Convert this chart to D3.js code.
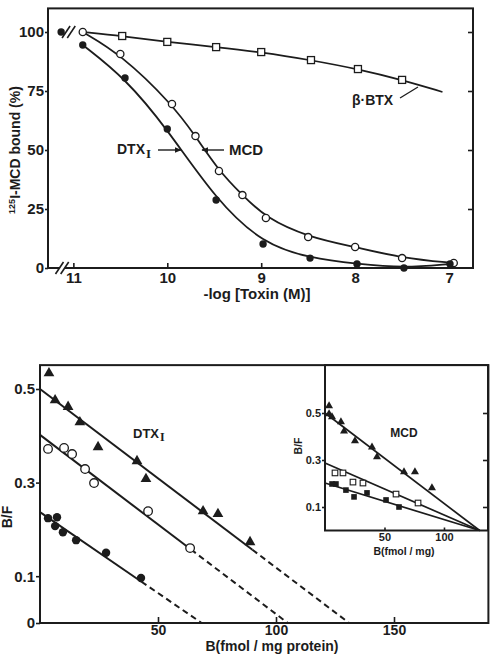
<!DOCTYPE html>
<html>
<head>
<meta charset="utf-8">
<script src="https://cdn.jsdelivr.net/npm/d3@7"></script>
<style>
body { margin: 0; background: #fff; }
svg { display: block; font-family: "Liberation Sans", Arial, sans-serif; font-weight: bold; }
.axis path { display: none; }
.axis line { stroke: #1c1c1c; stroke-width: 1.6; }
.axis text { fill: #1c1c1c; font-weight: bold; }
</style>
</head>
<body>
<script>
// top panel: displacement of 125I-MCD binding by toxins
const toxinTicks = [11, 10, 9, 8, 7];
const pctTicks = [0, 25, 50, 75, 100];

const mcdLogX  = [10.9, 10.5, 9.95, 9.7, 9.45, 9.2, 8.95, 8.5, 8, 7.5, 6.95];
const mcdBound = [100, 90.7, 69.5, 55.9, 41.1, 30.9, 21.2, 13.1, 8.9, 4.2, 2.1];

const dtxLogX  = [11.13, 10.9, 10.45, 10, 9.48, 8.98, 8.48, 7.98, 7.48, 6.99];
const dtxBound = [100, 94.5, 80.5, 58.9, 28.8, 10.2, 4.2, 1.7, 0, 1.7];

const btxLogX  = [10.48, 10, 9.48, 9, 8.47, 7.97, 7.5];
const btxBound = [98.3, 95.8, 93.6, 91.5, 88.1, 84.3, 79.7];
const btxLineEnd = [7.07, 74.6];

// bottom panel: Scatchard plots, DTX-I (main) and MCD (inset)
const bTicks = [50, 100, 150];
const bfTicks = [0, 0.1, 0.3, 0.5];

const triB  = [3.8, 6.4, 11.9, 16.9, 24.6, 41.1, 44.9, 69.1, 75.4, 89.0];
const triBF = [0.534, 0.476, 0.462, 0.429, 0.376, 0.346, 0.308, 0.239, 0.233, 0.173];
const openB  = [3.4, 10.2, 13.6, 19.1, 22.9, 45.8, 63.6];
const openBF = [0.372, 0.374, 0.361, 0.329, 0.299, 0.239, 0.160];
const fillB  = [3.4, 7.2, 6.4, 9.7, 15.3, 28.0, 42.8];
const fillBF = [0.224, 0.226, 0.207, 0.194, 0.177, 0.150, 0.096];

// fitted lines: y-intercept, x-intercept, end of the solid part
const fitIntercept = [0.5, 0.402, 0.237];
const fitRoot = [131, 105, 68.5];
const fitSolidTo = [90, 64, 43];

const inTicksX = [50, 100];
const inTicksY = [0.1, 0.3, 0.5];
const inTriB  = [3.4, 3.4, 5.9, 13.4, 16.0, 25.2, 39.5, 43.7, 66.4, 75.6, 89.9];
const inTriBF = [0.530, 0.496, 0.483, 0.462, 0.423, 0.381, 0.355, 0.313, 0.249, 0.249, 0.181];
const inOpenB  = [8.4, 15.1, 23.5, 31.9, 59.7, 78.2];
const inOpenBF = [0.245, 0.245, 0.206, 0.202, 0.155, 0.117];
const inFillB  = [5.9, 9.2, 17.6, 24.4, 35.3, 51.3, 62.2];
const inFillBF = [0.198, 0.198, 0.172, 0.143, 0.160, 0.130, 0.100];
const inFitIntercept = [0.5, 0.287, 0.202];
const inFitRoot = 130;

const ink = '#1c1c1c';

const svg = d3.select('body').append('svg')
    .attr('width', 491)
    .attr('height', 655);

svg.append('defs').append('marker')
    .attr('id', 'arrow')
    .attr('viewBox', '0 0 10 10')
    .attr('refX', 9).attr('refY', 5)
    .attr('markerWidth', 7).attr('markerHeight', 7)
    .attr('markerUnits', 'userSpaceOnUse')
    .attr('orient', 'auto')
    .append('path')
    .attr('d', 'M0,1 L10,5 L0,9 Z')
    .attr('fill', ink);

//---------------- top panel
const xTop = d3.scaleLinear().domain([11.27, 6.745]).range([48, 473]);
const yTop = d3.scaleLinear().domain([0, 100]).range([268, 32]);

const upper = svg.append('g');

upper.append('rect')
    .attr('x', xTop.range()[0])
    .attr('y', yTop(110))
    .attr('width', xTop.range()[1] - xTop.range()[0])
    .attr('height', yTop(0) - yTop(110))
    .attr('fill', 'none')
    .attr('stroke', ink)
    .attr('stroke-width', 2);

upper.append('g')
    .attr('class', 'axis')
    .attr('transform', 'translate(0,' + yTop(0) + ')')
    .call(d3.axisBottom(xTop).tickValues(toxinTicks).tickSize(-5).tickPadding(4).tickFormat(d3.format('d')))
    .selectAll('text').attr('font-size', 15);

upper.append('g')
    .attr('class', 'axis')
    .attr('transform', 'translate(' + xTop.range()[0] + ',0)')
    .call(d3.axisLeft(yTop).tickValues(pctTicks).tickSize(3).tickPadding(1))
    .selectAll('text').attr('font-size', 15);

upper.append('g')
    .attr('class', 'axis')
    .attr('transform', 'translate(' + xTop.range()[1] + ',0)')
    .call(d3.axisRight(yTop).tickValues(pctTicks.slice(1)).tickSize(-5).tickFormat(''));

const curve = d3.line()
    .x(d => xTop(d[0]))
    .y(d => yTop(d[1]))
    .curve(d3.curveBasis);

const mcdPts = d3.zip(mcdLogX, mcdBound);
const dtxPts = d3.zip(dtxLogX, dtxBound);
const btxPts = d3.zip(btxLogX, btxBound);

upper.append('path')
    .attr('d', curve([mcdPts[0]].concat(btxPts, [btxLineEnd])))
    .attr('fill', 'none').attr('stroke', ink).attr('stroke-width', 1.7);
upper.append('path')
    .attr('d', curve(mcdPts))
    .attr('fill', 'none').attr('stroke', ink).attr('stroke-width', 1.8);
upper.append('path')
    .attr('d', curve(dtxPts.slice(1)))
    .attr('fill', 'none').attr('stroke', ink).attr('stroke-width', 1.8);

// axis breaks
function breakMark(g, cx, cy) {
    g.append('rect')
        .attr('x', cx - 2.5).attr('y', cy - 3)
        .attr('width', 5).attr('height', 6)
        .attr('fill', '#fff');
    [-2.6, 2.6].forEach(o => {
        g.append('line')
            .attr('x1', cx + o - 4).attr('y1', cy + 6)
            .attr('x2', cx + o + 4).attr('y2', cy - 6)
            .attr('stroke', ink).attr('stroke-width', 1.6);
    });
}
breakMark(upper, xTop(11.12), yTop(0));
breakMark(upper, xTop(11.05), yTop(100));

upper.selectAll('.btx')
    .data(btxPts)
    .enter()
    .append('rect')
    .attr('x', d => xTop(d[0]) - 3.5)
    .attr('y', d => yTop(d[1]) - 3.5)
    .attr('width', 7).attr('height', 7)
    .attr('fill', '#fff').attr('stroke', ink).attr('stroke-width', 1.3);

upper.selectAll('.mcd')
    .data(mcdPts)
    .enter()
    .append('circle')
    .attr('cx', d => xTop(d[0]))
    .attr('cy', d => yTop(d[1]))
    .attr('r', 3.6)
    .attr('fill', '#fff').attr('stroke', ink).attr('stroke-width', 1.3);

upper.selectAll('.dtx')
    .data(dtxPts)
    .enter()
    .append('circle')
    .attr('cx', d => xTop(d[0]))
    .attr('cy', d => yTop(d[1]))
    .attr('r', 3.7)
    .attr('fill', ink);

// labels
const dtxLab = upper.append('text').attr('x', 117).attr('y', 154).attr('font-size', 14).attr('fill', ink);
dtxLab.append('tspan').text('DTX');
dtxLab.append('tspan').attr('dy', 4).attr('dx', 1).attr('font-family', '"Liberation Serif", serif').attr('font-size', 13).text('I');

upper.append('line')
    .attr('x1', 158).attr('y1', 150).attr('x2', 181).attr('y2', 150)
    .attr('stroke', ink).attr('stroke-width', 1.4).attr('marker-end', 'url(#arrow)');
upper.append('line')
    .attr('x1', 224).attr('y1', 150).attr('x2', 202).attr('y2', 150)
    .attr('stroke', ink).attr('stroke-width', 1.4).attr('marker-end', 'url(#arrow)');
upper.append('text').attr('x', 229).attr('y', 155).attr('font-size', 15).attr('fill', ink).text('MCD');

upper.append('text').attr('x', 352).attr('y', 105).attr('font-size', 14).attr('fill', ink).text('β·BTX');
upper.append('line')
    .attr('x1', 400).attr('y1', 98).attr('x2', 418).attr('y2', 87)
    .attr('stroke', ink).attr('stroke-width', 1.3);

upper.append('text')
    .attr('x', 257).attr('y', 299)
    .attr('text-anchor', 'middle')
    .attr('font-size', 15).attr('fill', ink)
    .text('-log [Toxin (M)]');

const yLab = upper.append('text')
    .attr('transform', 'translate(20,150) rotate(-90)')
    .attr('text-anchor', 'middle')
    .attr('font-size', 14).attr('fill', ink);
yLab.append('tspan').attr('font-size', 9).attr('dy', -5).text('125');
yLab.append('tspan').attr('dy', 5).text('I-MCD bound (%)');

//---------------- bottom panel
const xMain = d3.scaleLinear().domain([0, 190]).range([40, 488.4]);
const yMain = d3.scaleLinear().domain([0, 0.5]).range([623, 389]);

const lower = svg.append('g');

lower.append('rect')
    .attr('x', xMain(0)).attr('y', yMain(0.551))
    .attr('width', xMain(190) - xMain(0))
    .attr('height', yMain(0) - yMain(0.551))
    .attr('fill', 'none').attr('stroke', ink).attr('stroke-width', 2);

lower.append('g')
    .attr('class', 'axis')
    .attr('transform', 'translate(0,' + yMain(0) + ')')
    .call(d3.axisBottom(xMain).tickValues(bTicks).tickSize(-6).tickPadding(2))
    .selectAll('text').attr('font-size', 14);

lower.append('g')
    .attr('class', 'axis')
    .attr('transform', 'translate(' + xMain(0) + ',0)')
    .call(d3.axisLeft(yMain).tickValues(bfTicks).tickSize(4).tickPadding(1)
        .tickFormat(d => d === 0 ? '0' : d3.format('.1f')(d)))
    .selectAll('text').attr('font-size', 15);

const lineMain = d3.line().x(d => xMain(d[0])).y(d => yMain(d[1]));

fitIntercept.forEach((a, i) => {
    const r = fitRoot[i], s = fitSolidTo[i];
    const mid = [s, a * (1 - s / r)];
    lower.append('path')
        .attr('d', lineMain([[0, a], mid]))
        .attr('fill', 'none').attr('stroke', ink).attr('stroke-width', 2);
    lower.append('path')
        .attr('d', lineMain([mid, [r, 0]]))
        .attr('fill', 'none').attr('stroke', ink).attr('stroke-width', 2)
        .attr('stroke-dasharray', '6,4');
});

const tri = d3.symbol().type(d3.symbolTriangle);

lower.selectAll('.tri')
    .data(d3.zip(triB, triBF))
    .enter()
    .append('path')
    .attr('d', tri.size(50)())
    .attr('transform', d => 'translate(' + xMain(d[0]) + ',' + yMain(d[1]) + ')')
    .attr('fill', ink);

lower.selectAll('.open')
    .data(d3.zip(openB, openBF))
    .enter()
    .append('circle')
    .attr('cx', d => xMain(d[0])).attr('cy', d => yMain(d[1]))
    .attr('r', 4.3)
    .attr('fill', '#fff').attr('stroke', ink).attr('stroke-width', 1.3);

lower.selectAll('.fill')
    .data(d3.zip(fillB, fillBF))
    .enter()
    .append('circle')
    .attr('cx', d => xMain(d[0])).attr('cy', d => yMain(d[1]))
    .attr('r', 4.2)
    .attr('fill', ink);

const dtx2 = lower.append('text').attr('x', 133).attr('y', 438).attr('font-size', 13).attr('fill', ink);
dtx2.append('tspan').text('DTX');
dtx2.append('tspan').attr('dy', 3).attr('dx', 1).attr('font-family', '"Liberation Serif", serif').attr('font-size', 12).text('I');

lower.append('text')
    .attr('x', 272).attr('y', 651)
    .attr('text-anchor', 'middle')
    .attr('font-size', 14).attr('fill', ink)
    .text('B(fmol / mg protein)');

lower.append('text')
    .attr('transform', 'translate(12,517) rotate(-90)')
    .attr('text-anchor', 'middle')
    .attr('font-size', 14).attr('fill', ink)
    .text('B/F');

//---------------- inset
const xIn = d3.scaleLinear().domain([0, 137]).range([325, 488]);
const yIn = d3.scaleLinear().domain([0, 0.5]).range([530.5, 413]);

const ins = svg.append('g');

ins.append('rect')
    .attr('x', xIn(0)).attr('y', yMain(0.551))
    .attr('width', xIn(137) - xIn(0))
    .attr('height', yIn(0) - yMain(0.551))
    .attr('fill', '#fff').attr('stroke', ink).attr('stroke-width', 2);

ins.append('g')
    .attr('class', 'axis')
    .attr('transform', 'translate(0,' + yIn(0) + ')')
    .call(d3.axisBottom(xIn).tickValues(inTicksX).tickSize(-3).tickPadding(3))
    .selectAll('text').attr('font-size', 11);

ins.append('g')
    .attr('class', 'axis')
    .attr('transform', 'translate(' + xIn(0) + ',0)')
    .call(d3.axisLeft(yIn).tickValues(inTicksY).tickSize(3).tickPadding(1).tickFormat(d3.format('.1f')))
    .selectAll('text').attr('font-size', 11);

ins.append('g')
    .attr('class', 'axis')
    .attr('transform', 'translate(' + xIn(137) + ',0)')
    .call(d3.axisRight(yIn).tickValues(inTicksY).tickSize(-5).tickFormat(''));

const lineIn = d3.line().x(d => xIn(d[0])).y(d => yIn(d[1]));

inFitIntercept.forEach(a => {
    ins.append('path')
        .attr('d', lineIn([[0, a], [inFitRoot, 0]]))
        .attr('fill', 'none').attr('stroke', ink).attr('stroke-width', 1.7);
});

ins.selectAll('.itri')
    .data(d3.zip(inTriB, inTriBF))
    .enter()
    .append('path')
    .attr('d', tri.size(28)())
    .attr('transform', d => 'translate(' + xIn(d[0]) + ',' + yIn(d[1]) + ')')
    .attr('fill', ink);

ins.selectAll('.iopen')
    .data(d3.zip(inOpenB, inOpenBF))
    .enter()
    .append('rect')
    .attr('x', d => xIn(d[0]) - 2.8).attr('y', d => yIn(d[1]) - 2.8)
    .attr('width', 5.6).attr('height', 5.6)
    .attr('fill', '#fff').attr('stroke', ink).attr('stroke-width', 1.1);

ins.selectAll('.ifill')
    .data(d3.zip(inFillB, inFillBF))
    .enter()
    .append('rect')
    .attr('x', d => xIn(d[0]) - 2.8).attr('y', d => yIn(d[1]) - 2.8)
    .attr('width', 5.6).attr('height', 5.6)
    .attr('fill', ink);

ins.append('text').attr('x', 404).attr('y', 437).attr('text-anchor', 'middle')
    .attr('font-size', 12).attr('fill', ink).text('MCD');

ins.append('text')
    .attr('x', 404).attr('y', 555).attr('text-anchor', 'middle')
    .attr('font-size', 10.5).attr('fill', ink)
    .text('B(fmol / mg)');

ins.append('text')
    .attr('transform', 'translate(302,446) rotate(-90)')
    .attr('text-anchor', 'middle')
    .attr('font-size', 10.5).attr('fill', ink)
    .text('B/F');
</script>
</body>
</html>
